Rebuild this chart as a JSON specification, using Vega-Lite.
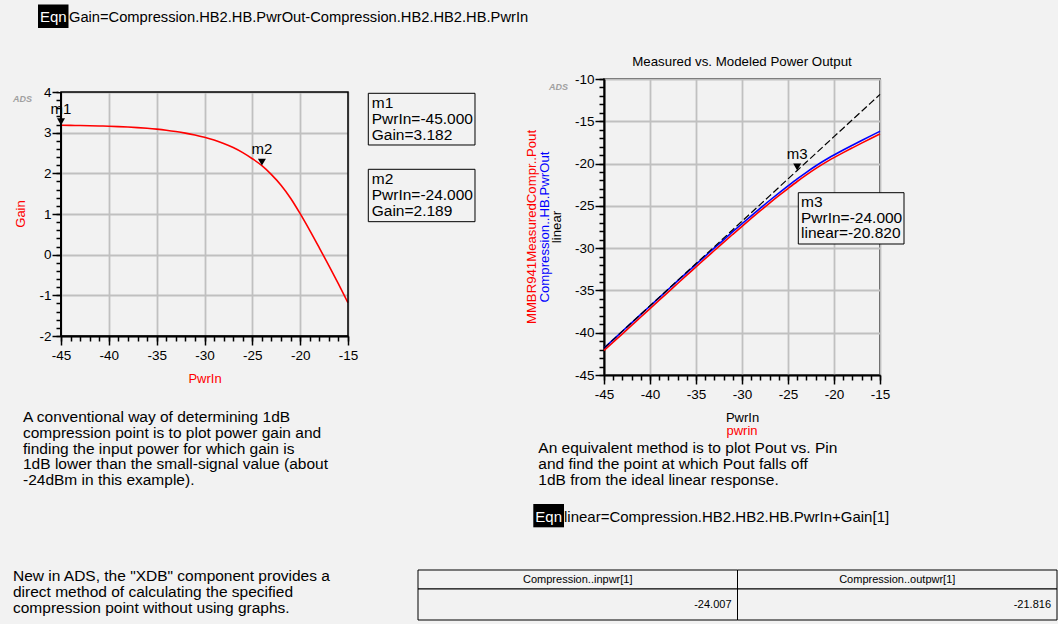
{
  "$schema": "https://vega.github.io/schema/vega-lite/v6.json",
  "background": "#f2f2f2",
  "padding": {"left": 13, "top": 4, "right": 1, "bottom": 4},
  "config": {
    "font": "Liberation Sans",
    "view": {"stroke": "#000", "strokeWidth": 1.5},
    "axis": {"labelFont": "Liberation Sans", "labelFontSize": 13.5, "labelColor": "#000", "titleFont": "Liberation Sans", "titleFontSize": 13, "titleFontWeight": "normal", "titleColor": "#000", "domainColor": "#000", "domainWidth": 2, "tickColor": "#000", "tickWidth": 1.5, "gridColor": "#c0c0c0", "gridWidth": 1.8, "labelFlush": false, "labelOverlap": false},
    "axisX": {"labelPadding": 3, "titlePadding": 11},
    "axisY": {"labelPadding": 1, "titlePadding": 10},
    "text": {"font": "Liberation Sans", "fontSize": 15.5, "color": "#000"},
    "title": {"font": "Liberation Sans", "fontSize": 13.3, "fontWeight": "normal", "color": "#000", "offset": 4}
  },
  "datasets": {
    "gain": [
      {"PwrIn": -45, "Gain": 3.182, "PwrOut": -41.818, "Measured": -42.10, "linear": -41.818},
      {"PwrIn": -44, "Gain": 3.179, "PwrOut": -40.821, "Measured": -41.12, "linear": -40.818},
      {"PwrIn": -43, "Gain": 3.176, "PwrOut": -39.824, "Measured": -40.13, "linear": -39.818},
      {"PwrIn": -42, "Gain": 3.171, "PwrOut": -38.829, "Measured": -39.13, "linear": -38.818},
      {"PwrIn": -41, "Gain": 3.165, "PwrOut": -37.835, "Measured": -38.14, "linear": -37.818},
      {"PwrIn": -40, "Gain": 3.158, "PwrOut": -36.842, "Measured": -37.15, "linear": -36.818},
      {"PwrIn": -39, "Gain": 3.149, "PwrOut": -35.851, "Measured": -36.15, "linear": -35.818},
      {"PwrIn": -38, "Gain": 3.138, "PwrOut": -34.862, "Measured": -35.17, "linear": -34.818},
      {"PwrIn": -37, "Gain": 3.124, "PwrOut": -33.876, "Measured": -34.18, "linear": -33.818},
      {"PwrIn": -36, "Gain": 3.107, "PwrOut": -32.893, "Measured": -33.19, "linear": -32.818},
      {"PwrIn": -35, "Gain": 3.086, "PwrOut": -31.914, "Measured": -32.22, "linear": -31.818},
      {"PwrIn": -34, "Gain": 3.060, "PwrOut": -30.940, "Measured": -31.24, "linear": -30.818},
      {"PwrIn": -33, "Gain": 3.028, "PwrOut": -29.972, "Measured": -30.28, "linear": -29.818},
      {"PwrIn": -32, "Gain": 2.989, "PwrOut": -29.011, "Measured": -29.31, "linear": -28.818},
      {"PwrIn": -31, "Gain": 2.942, "PwrOut": -28.058, "Measured": -28.36, "linear": -27.818},
      {"PwrIn": -30, "Gain": 2.885, "PwrOut": -27.115, "Measured": -27.42, "linear": -26.818},
      {"PwrIn": -29, "Gain": 2.817, "PwrOut": -26.183, "Measured": -26.49, "linear": -25.818},
      {"PwrIn": -28, "Gain": 2.734, "PwrOut": -25.266, "Measured": -25.57, "linear": -24.818},
      {"PwrIn": -27, "Gain": 2.634, "PwrOut": -24.366, "Measured": -24.67, "linear": -23.818},
      {"PwrIn": -26, "Gain": 2.509, "PwrOut": -23.491, "Measured": -23.80, "linear": -22.818},
      {"PwrIn": -25, "Gain": 2.359, "PwrOut": -22.641, "Measured": -22.95, "linear": -21.818},
      {"PwrIn": -24, "Gain": 2.189, "PwrOut": -21.811, "Measured": -22.12, "linear": -20.818},
      {"PwrIn": -23, "Gain": 1.969, "PwrOut": -21.031, "Measured": -21.34, "linear": -19.818},
      {"PwrIn": -22, "Gain": 1.709, "PwrOut": -20.291, "Measured": -20.60, "linear": -18.818},
      {"PwrIn": -21, "Gain": 1.389, "PwrOut": -19.611, "Measured": -19.92, "linear": -17.818},
      {"PwrIn": -20, "Gain": 1.009, "PwrOut": -18.991, "Measured": -19.30, "linear": -16.818},
      {"PwrIn": -19, "Gain": 0.599, "PwrOut": -18.401, "Measured": -18.71, "linear": -15.818},
      {"PwrIn": -18, "Gain": 0.169, "PwrOut": -17.831, "Measured": -18.14, "linear": -14.818},
      {"PwrIn": -17, "Gain": -0.271, "PwrOut": -17.271, "Measured": -17.58, "linear": -13.818},
      {"PwrIn": -16, "Gain": -0.721, "PwrOut": -16.721, "Measured": -17.03, "linear": -12.818},
      {"PwrIn": -15, "Gain": -1.181, "PwrOut": -16.181, "Measured": -16.49, "linear": -11.818}
    ],
    "markersL": [
      {"marker": "m1", "PwrIn": -45, "Gain": 3.182},
      {"marker": "m2", "PwrIn": -24, "Gain": 2.189}
    ],
    "markersR": [
      {"marker": "m3", "PwrIn": -24, "linear": -20.82}
    ],
    "table": [
      {"column": "Compression..inpwr[1]", "value": -24.007},
      {"column": "Compression..outpwr[1]", "value": -21.816}
    ]
  },
  "bounds": "flush",
  "columns": 2,
  "spacing": {"row": 195, "column": 256},
  "concat": [
    {
      "width": 287,
      "height": 257,
      "view": {"stroke": null},
      "resolve": {"axis": {"x": "independent", "y": "independent"}},
      "layer": [
        {
          "data": {"values": [{}]},
          "mark": {"type": "point", "opacity": 0},
          "encoding": {
            "x": {"datum": -45, "type": "quantitative", "scale": {"domain": [-45, -15], "nice": false, "zero": false},
              "axis": {"orient": "bottom", "title": null, "values": [-45, -40, -35, -30, -25, -20, -15], "grid": true, "gridOpacity": 1, "labels": false, "ticks": false, "domain": false}},
            "y": {"datum": -2, "type": "quantitative", "scale": {"domain": [-2, 4.3197], "nice": false, "zero": false},
              "axis": {"orient": "left", "title": null, "values": [-2, -1, 0, 1, 2, 3, 4], "grid": true, "gridOpacity": 1, "labels": false, "ticks": false, "domain": false}}
          }
        },
        {
          "layer": [
            {
              "data": {"name": "gain"},
              "mark": {"type": "line", "color": "#ff0000", "strokeWidth": 1.6, "interpolate": "monotone"},
              "encoding": {
                "x": {"field": "PwrIn", "type": "quantitative",
                  "axis": {"orient": "bottom", "title": "PwrIn", "titleColor": "#ff0000", "values": [-45, -40, -35, -30, -25, -20, -15], "labelExpr": "'' + datum.value", "tickSize": 9, "grid": false}},
                "y": {"field": "Gain", "type": "quantitative",
                  "axis": {"orient": "left", "title": null, "values": [-2, -1, 0, 1, 2, 3, 4], "labelExpr": "'' + datum.value", "tickSize": 9, "grid": false, "domain": false}}
              }
            },
            {
              "data": {"values": [{}]},
              "mark": {"type": "rect", "color": "#f2f2f2"},
              "encoding": {"x": {"datum": -45.25, "type": "quantitative"}, "x2": {"datum": -14.75}, "y": {"datum": 4, "type": "quantitative"}, "y2": {"datum": 4.3197}}
            },
            {
              "data": {"values": [{}]},
              "mark": {"type": "rect", "filled": false, "stroke": "#000", "strokeWidth": 1.5},
              "encoding": {"x": {"datum": -45, "type": "quantitative"}, "x2": {"datum": -15}, "y": {"datum": -2, "type": "quantitative"}, "y2": {"datum": 4}}
            },
            {
              "data": {"values": [{}]},
              "mark": {"type": "rule", "color": "#000", "strokeWidth": 2},
              "encoding": {"x": {"datum": -45, "type": "quantitative"}, "y": {"datum": -2, "type": "quantitative"}, "y2": {"datum": 4}}
            },
            {
              "data": {"name": "markersL"},
              "mark": {"type": "point", "shape": "triangle-down", "filled": true, "color": "#000", "opacity": 1, "size": 64, "yOffset": -3.5},
              "encoding": {"x": {"field": "PwrIn", "type": "quantitative"}, "y": {"field": "Gain", "type": "quantitative"}}
            },
            {
              "data": {"name": "markersL"},
              "mark": {"type": "text", "fontSize": 15, "baseline": "alphabetic", "dy": -11.5},
              "encoding": {"x": {"field": "PwrIn", "type": "quantitative"}, "y": {"field": "Gain", "type": "quantitative"}, "text": {"field": "marker"}}
            },
            {
              "data": {"values": [{}]},
              "mark": {"type": "rect", "fill": "#f2f2f2", "stroke": "#000", "strokeWidth": 1},
              "encoding": {"x": {"datum": -12.878, "type": "quantitative"}, "x2": {"datum": -1.725}, "y": {"datum": 3.968, "type": "quantitative"}, "y2": {"datum": 2.697}}
            },
            {
              "data": {"values": [{}]},
              "mark": {"type": "text", "align": "left", "baseline": "alphabetic", "fontSize": 15.5, "lineHeight": 15.8, "text": ["m1", "PwrIn=-45.000", "Gain=3.182"]},
              "encoding": {"x": {"datum": -12.52, "type": "quantitative"}, "y": {"datum": 3.599, "type": "quantitative"}}
            },
            {
              "data": {"values": [{}]},
              "mark": {"type": "rect", "fill": "#f2f2f2", "stroke": "#000", "strokeWidth": 1},
              "encoding": {"x": {"datum": -12.878, "type": "quantitative"}, "x2": {"datum": -1.725}, "y": {"datum": 2.099, "type": "quantitative"}, "y2": {"datum": 0.811}}
            },
            {
              "data": {"values": [{}]},
              "mark": {"type": "text", "align": "left", "baseline": "alphabetic", "fontSize": 15.5, "lineHeight": 15.8, "text": ["m2", "PwrIn=-24.000", "Gain=2.189"]},
              "encoding": {"x": {"datum": -12.52, "type": "quantitative"}, "y": {"datum": 1.73, "type": "quantitative"}}
            },
            {
              "data": {"values": [{}]},
              "mark": {"type": "rect", "color": "#000"},
              "encoding": {"x": {"datum": -47.404, "type": "quantitative"}, "x2": {"datum": -44.216}, "y": {"datum": 6.152, "type": "quantitative"}, "y2": {"datum": 5.574}}
            },
            {
              "data": {"values": [{}]},
              "mark": {"type": "text", "align": "center", "baseline": "alphabetic", "fontSize": 15, "color": "#ffffff", "text": "Eqn"},
              "encoding": {"x": {"datum": -45.81, "type": "quantitative"}, "y": {"datum": 5.714, "type": "quantitative"}}
            },
            {
              "data": {"values": [{}]},
              "mark": {"type": "text", "align": "left", "baseline": "alphabetic", "fontSize": 14.7, "text": "Gain=Compression.HB2.HB.PwrOut-Compression.HB2.HB2.HB.PwrIn"},
              "encoding": {"x": {"datum": -44.164, "type": "quantitative"}, "y": {"datum": 5.714, "type": "quantitative"}}
            },
            {
              "data": {"values": [{}]},
              "mark": {"type": "text", "align": "left", "baseline": "alphabetic", "fontSize": 15.5, "lineHeight": 15.7, "text": ["A conventional way of determining 1dB", "compression point is to plot power gain and", "finding the input power for which gain is", "1dB lower than the small-signal value (about", "-24dBm in this example)."]},
              "encoding": {"x": {"datum": -48.972, "type": "quantitative"}, "y": {"datum": -4.122, "type": "quantitative"}}
            },
            {
              "data": {"values": [{}]},
              "mark": {"type": "text", "align": "left", "baseline": "alphabetic", "fontSize": 15.5, "lineHeight": 16.2, "text": ["New in ADS, the \"XDB\" component provides a", "direct method of calculating the specified", "compression point without using graphs."]},
              "encoding": {"x": {"datum": -50.017, "type": "quantitative"}, "y": {"datum": -8.017, "type": "quantitative"}}
            },
            {
              "data": {"values": [{}]},
              "mark": {"type": "text", "align": "left", "baseline": "alphabetic", "fontSize": 9, "fontWeight": "bold", "fontStyle": "italic", "color": "#a0a0a0", "text": "ADS"},
              "encoding": {"x": {"datum": -50.017, "type": "quantitative"}, "y": {"datum": 3.754, "type": "quantitative"}}
            },
            {
              "data": {"values": [{}]},
              "mark": {"type": "text", "align": "center", "baseline": "middle", "angle": 270, "fontSize": 13, "color": "#ff0000", "text": "Gain"},
              "encoding": {"x": {"datum": -49.181, "type": "quantitative"}, "y": {"datum": 1, "type": "quantitative"}}
            }
          ]
        },
        {
          "data": {"values": [{}]},
          "mark": {"type": "point", "opacity": 0},
          "encoding": {
            "x": {"datum": -45, "type": "quantitative",
              "axis": {"orient": "bottom", "title": null, "values": [-45,-44,-43,-42,-41,-40,-39,-38,-37,-36,-35,-34,-33,-32,-31,-30,-29,-28,-27,-26,-25,-24,-23,-22,-21,-20,-19,-18,-17,-16,-15], "labels": false, "grid": false, "domain": false, "tickSize": 5}},
            "y": {"datum": -2, "type": "quantitative",
              "axis": {"orient": "left", "title": null, "values": [-2,-1.8,-1.6,-1.4,-1.2,-1,-0.8,-0.6,-0.4,-0.2,0,0.2,0.4,0.6,0.8,1,1.2,1.4,1.6,1.8,2,2.2,2.4,2.6,2.8,3,3.2,3.4,3.6,3.8,4], "labels": false, "grid": false, "domain": false, "tickSize": 5}}
          }
        }
      ]
    },
    {
      "width": 276,
      "height": 296,
      "title": {"text": "Measured vs. Modeled Power Output", "anchor": "middle"},
      "resolve": {"axis": {"x": "independent", "y": "independent"}},
      "layer": [
        {
          "layer": [
            {
              "data": {"name": "gain"},
              "mark": {"type": "line", "color": "#ff0000", "strokeWidth": 1.6, "interpolate": "monotone"},
              "encoding": {
                "x": {"field": "PwrIn", "type": "quantitative", "scale": {"domain": [-45, -15], "nice": false, "zero": false},
                  "axis": {"orient": "bottom", "title": "PwrIn", "values": [-45, -40, -35, -30, -25, -20, -15], "labelExpr": "'' + datum.value", "tickSize": 9, "grid": true, "gridOpacity": 1}},
                "y": {"field": "Measured", "type": "quantitative", "scale": {"domain": [-45, -10], "nice": false, "zero": false},
                  "axis": {"orient": "left", "title": null, "values": [-45, -40, -35, -30, -25, -20, -15, -10], "labelExpr": "'' + datum.value", "tickSize": 9, "grid": true, "gridOpacity": 1}}
              }
            },
            {
              "data": {"name": "gain"},
              "mark": {"type": "line", "color": "#0000ff", "strokeWidth": 1.6, "interpolate": "monotone"},
              "encoding": {"x": {"field": "PwrIn", "type": "quantitative"}, "y": {"field": "PwrOut", "type": "quantitative", "title": null}}
            },
            {
              "data": {"name": "gain"},
              "mark": {"type": "line", "color": "#000", "strokeWidth": 1.2, "strokeDash": [7, 3]},
              "encoding": {"x": {"field": "PwrIn", "type": "quantitative"}, "y": {"field": "linear", "type": "quantitative", "title": null}}
            },
            {
              "data": {"name": "markersR"},
              "mark": {"type": "point", "shape": "triangle-down", "filled": true, "color": "#000", "opacity": 1, "size": 64, "yOffset": -3.5},
              "encoding": {"x": {"field": "PwrIn", "type": "quantitative"}, "y": {"field": "linear", "type": "quantitative", "title": null}}
            },
            {
              "data": {"name": "markersR"},
              "mark": {"type": "text", "fontSize": 15, "baseline": "alphabetic", "dy": -11.5},
              "encoding": {"x": {"field": "PwrIn", "type": "quantitative"}, "y": {"field": "linear", "type": "quantitative", "title": null}, "text": {"field": "marker"}}
            },
            {
              "data": {"values": [{}]},
              "mark": {"type": "rect", "fill": "#f2f2f2", "stroke": "#000", "strokeWidth": 1},
              "encoding": {"x": {"datum": -23.88, "type": "quantitative"}, "x2": {"datum": -12.391}, "y": {"datum": -23.444, "type": "quantitative"}, "y2": {"datum": -29.511}}
            },
            {
              "data": {"values": [{}]},
              "mark": {"type": "text", "align": "left", "baseline": "alphabetic", "fontSize": 15.5, "lineHeight": 15.5, "text": ["m3", "PwrIn=-24.000", "linear=-20.820"]},
              "encoding": {"x": {"datum": -23.587, "type": "quantitative"}, "y": {"datum": -25.171, "type": "quantitative"}}
            },
            {
              "data": {"values": [{}]},
              "mark": {"type": "text", "align": "center", "baseline": "middle", "angle": 270, "fontSize": 13.2, "color": "#ff0000", "text": "MMBR941MeasuredCompr..Pout"},
              "encoding": {"x": {"datum": -52.826, "type": "quantitative"}, "y": {"datum": -27.5, "type": "quantitative"}}
            },
            {
              "data": {"values": [{}]},
              "mark": {"type": "text", "align": "center", "baseline": "middle", "angle": 270, "fontSize": 13.2, "color": "#0000ff", "text": "Compression..HB.PwrOut"},
              "encoding": {"x": {"datum": -51.38, "type": "quantitative"}, "y": {"datum": -27.5, "type": "quantitative"}}
            },
            {
              "data": {"values": [{}]},
              "mark": {"type": "text", "align": "center", "baseline": "middle", "angle": 270, "fontSize": 13.2, "color": "#000", "text": "linear"},
              "encoding": {"x": {"datum": -50.109, "type": "quantitative"}, "y": {"datum": -27.5, "type": "quantitative"}}
            },
            {
              "data": {"values": [{}]},
              "mark": {"type": "text", "align": "center", "baseline": "middle", "fontSize": 13, "color": "#ff0000", "text": "pwrin"},
              "encoding": {"x": {"datum": -30, "type": "quantitative"}, "y": {"datum": -51.622, "type": "quantitative"}}
            },
            {
              "data": {"values": [{}]},
              "mark": {"type": "text", "align": "left", "baseline": "alphabetic", "fontSize": 9, "fontWeight": "bold", "fontStyle": "italic", "color": "#a0a0a0", "text": "ADS"},
              "encoding": {"x": {"datum": -50.978, "type": "quantitative"}, "y": {"datum": -11.242, "type": "quantitative"}}
            },
            {
              "data": {"values": [{}]},
              "mark": {"type": "text", "align": "left", "baseline": "alphabetic", "fontSize": 15.5, "lineHeight": 15.7, "text": ["An equivalent method is to plot Pout vs. Pin", "and find the point at which Pout falls off", "1dB from the ideal linear response."]},
              "encoding": {"x": {"datum": -52.141, "type": "quantitative"}, "y": {"datum": -54.259, "type": "quantitative"}}
            },
            {
              "data": {"values": [{}]},
              "mark": {"type": "rect", "color": "#000"},
              "encoding": {"x": {"datum": -52.685, "type": "quantitative"}, "x2": {"datum": -49.348}, "y": {"datum": -60.254, "type": "quantitative"}, "y2": {"datum": -63.01}}
            },
            {
              "data": {"values": [{}]},
              "mark": {"type": "text", "align": "center", "baseline": "alphabetic", "fontSize": 15, "color": "#ffffff", "text": "Eqn"},
              "encoding": {"x": {"datum": -51.011, "type": "quantitative"}, "y": {"datum": -62.348, "type": "quantitative"}}
            },
            {
              "data": {"values": [{}]},
              "mark": {"type": "text", "align": "left", "baseline": "alphabetic", "fontSize": 15, "text": "linear=Compression.HB2.HB2.HB.PwrIn+Gain[1]"},
              "encoding": {"x": {"datum": -49.348, "type": "quantitative"}, "y": {"datum": -62.348, "type": "quantitative"}}
            }
          ]
        },
        {
          "data": {"values": [{}]},
          "mark": {"type": "point", "opacity": 0},
          "encoding": {
            "x": {"datum": -45, "type": "quantitative",
              "axis": {"orient": "bottom", "title": null, "values": [-45,-44,-43,-42,-41,-40,-39,-38,-37,-36,-35,-34,-33,-32,-31,-30,-29,-28,-27,-26,-25,-24,-23,-22,-21,-20,-19,-18,-17,-16,-15], "labels": false, "grid": false, "domain": false, "tickSize": 5}},
            "y": {"datum": -45, "type": "quantitative",
              "axis": {"orient": "left", "title": null, "values": [-45,-44,-43,-42,-41,-40,-39,-38,-37,-36,-35,-34,-33,-32,-31,-30,-29,-28,-27,-26,-25,-24,-23,-22,-21,-20,-19,-18,-17,-16,-15,-14,-13,-12,-11,-10], "labels": false, "grid": false, "domain": false, "tickSize": 5}}
          }
        }
      ]
    },
    {
      "width": 287,
      "height": 50,
      "view": {"stroke": null},
      "data": {"name": "table"},
      "layer": [
        {
          "mark": {"type": "rect", "fill": "#f2f2f2", "stroke": "#000", "strokeWidth": 1},
          "encoding": {
            "x": {"field": "column", "type": "nominal", "sort": null, "scale": {"range": [357, 996], "paddingInner": 0, "paddingOuter": 0}, "axis": null},
            "y": {"datum": 0, "type": "quantitative", "scale": {"domain": [0, 1], "reverse": true, "nice": false, "zero": false}, "axis": null},
            "y2": {"datum": 0.38}
          }
        },
        {
          "mark": {"type": "rect", "fill": "#f2f2f2", "stroke": "#000", "strokeWidth": 1},
          "encoding": {
            "x": {"field": "column", "type": "nominal", "sort": null},
            "y": {"datum": 0.38, "type": "quantitative"},
            "y2": {"datum": 1}
          }
        },
        {
          "mark": {"type": "text", "font": "Liberation Sans", "fontSize": 11, "baseline": "middle", "align": "center"},
          "encoding": {
            "x": {"field": "column", "type": "nominal", "sort": null},
            "y": {"datum": 0.19, "type": "quantitative"},
            "text": {"field": "column", "type": "nominal"}
          }
        },
        {
          "mark": {"type": "text", "font": "Liberation Sans", "fontSize": 11, "baseline": "middle", "align": "right", "dx": -6},
          "encoding": {
            "x": {"field": "column", "type": "nominal", "sort": null, "bandPosition": 1},
            "y": {"datum": 0.69, "type": "quantitative"},
            "text": {"field": "value", "type": "nominal"}
          }
        }
      ]
    }
  ]
}
